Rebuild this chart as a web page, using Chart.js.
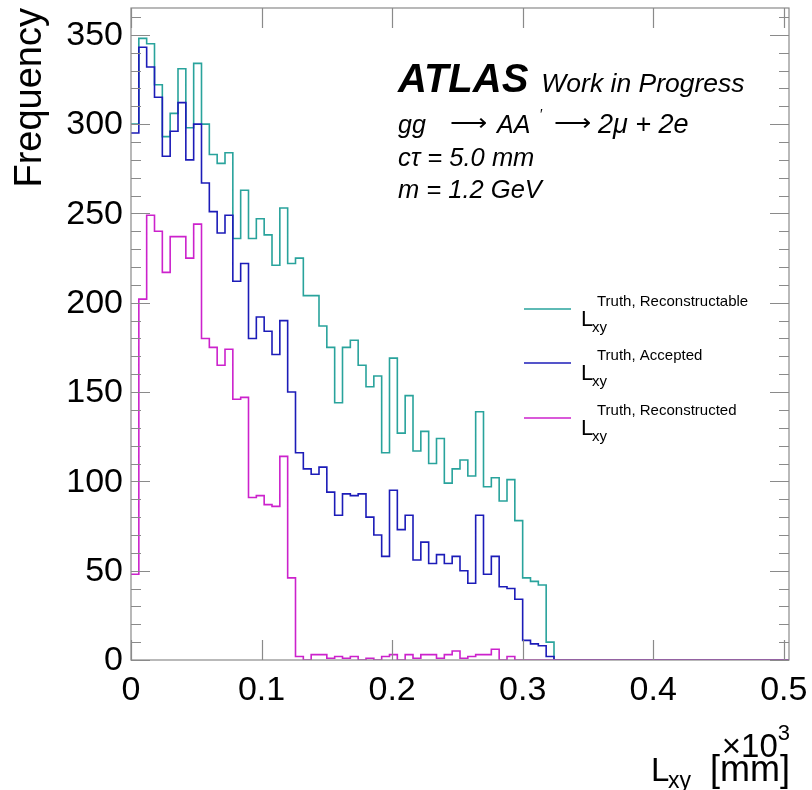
<!DOCTYPE html>
<html>
<head>
<meta charset="utf-8">
<script src="https://cdn.jsdelivr.net/npm/chart.js@4.4.0/dist/chart.umd.min.js"></script>
<style>
  html, body { margin: 0; padding: 0; background: #fff; }
</style>
</head>
<body>
<canvas id="lxyChart" width="812" height="790"></canvas>
<script>
// 6 mm bins from 0 to 504 mm, counts listed up to the last filled bin
const binWidth = 6;
const nBins = 84;

const reconstructable = [
  300, 348, 345, 322, 293, 306, 331, 298, 334, 300,
  283, 278, 284, 236, 263, 236, 247, 238, 221, 253,
  222, 225, 204, 204, 187, 175, 144, 175, 179, 165,
  153, 159, 116, 169, 127, 148, 117, 128, 110, 124,
  99, 107, 112, 103, 139, 97, 102, 89, 101, 78,
  46, 44, 42, 10
];
const accepted = [
  295, 343, 332, 315, 282, 296, 312, 280, 300, 267,
  251, 239, 249, 212, 222, 180, 192, 184, 171, 190,
  150, 116, 107, 104, 108, 94, 81, 93, 92, 93,
  80, 70, 58, 95, 73, 81, 56, 66, 54, 59,
  54, 58, 50, 43, 81, 48, 58, 41, 40, 34,
  11, 9, 8, 2
];
const reconstructed = [
  48, 202, 249, 240, 217, 237, 237, 225, 244, 180,
  175, 165, 174, 146, 147, 91, 92, 87, 86, 114,
  46, 2, 0, 3, 3, 1, 2, 1, 2, 0,
  1, 0, 2, 3, 0, 3, 1, 3, 3, 1,
  3, 5, 1, 2, 3, 3, 6, 0, 2, 0,
  0, 0, 0, 0
];

const seriesNames = ["Truth, Reconstructable", "Truth, Accepted", "Truth, Reconstructed"];
const xTicks = [0, 100, 200, 300, 400, 500];
const yTicks = [0, 50, 100, 150, 200, 250, 300, 350];

const FONT = '"Liberation Sans", Arial, Helvetica, sans-serif';
const COLORS = ["#29a39c", "#1c1cb8", "#cc22cc"];

// histogram outline: one point per lower bin edge, plus the closing edge
function toSteps(counts) {
  const pts = [];
  for (let i = 0; i < nBins; i++) {
    pts.push({ x: i * binWidth, y: counts[i] || 0 });
  }
  pts.push({ x: nBins * binWidth, y: counts[nBins - 1] || 0 });
  return pts;
}

function text(ctx, str, x, y, size, style, align, baseline) {
  ctx.font = (style || "") + " " + size + "px " + FONT;
  ctx.textAlign = align || "left";
  ctx.textBaseline = baseline || "alphabetic";
  ctx.fillText(str, x, y);
  return ctx.measureText(str).width;
}

// ROOT-like frame, inward ticks on all four sides, labels and legend
const rootFrame = {
  id: "rootFrame",
  afterDraw(chart) {
    const ctx = chart.ctx;
    const a = chart.chartArea;
    const xs = chart.scales.x, ys = chart.scales.y;
    ctx.save();
    ctx.strokeStyle = "#8a8a8a";
    ctx.lineWidth = 1.2;
    ctx.strokeRect(a.left, a.top, a.right - a.left, a.bottom - a.top);

    ctx.beginPath();
    for (let v = 0; v <= ys.max; v += 10) {
      const y = Math.round(ys.getPixelForValue(v)) + 0.5;
      const len = v % 50 === 0 ? 19 : 10;
      ctx.moveTo(a.left, y); ctx.lineTo(a.left + len, y);
      ctx.moveTo(a.right, y); ctx.lineTo(a.right - len, y);
    }
    xTicks.forEach(v => {
      const x = Math.round(xs.getPixelForValue(v)) + 0.5;
      ctx.moveTo(x, a.bottom); ctx.lineTo(x, a.bottom - 20);
      ctx.moveTo(x, a.top); ctx.lineTo(x, a.top + 20);
    });
    ctx.stroke();

    ctx.fillStyle = "#000";
    // tick labels
    yTicks.forEach(v => {
      text(ctx, String(v), a.left - 8, ys.getPixelForValue(v) + 1, 34, "", "right", "middle");
    });
    xTicks.forEach(v => {
      text(ctx, String(v / 1000), xs.getPixelForValue(v), a.bottom + 40, 34, "", "center");
    });

    // y title
    ctx.save();
    ctx.translate(41, 8);
    ctx.rotate(-Math.PI / 2);
    text(ctx, "Frequency", 0, 0, 38, "", "right");
    ctx.restore();

    // x title with exponent
    const w3 = text(ctx, "3", 790, 740, 22, "", "right");
    text(ctx, "\u00d710", 790 - w3, 757, 33, "", "right");
    text(ctx, "[mm]", 790, 781, 36, "", "right");
    text(ctx, "L", 651, 781, 33, "");
    text(ctx, "xy", 668, 788, 23, "");

    // labels
    const wA = text(ctx, "ATLAS", 398, 92, 40, "italic bold");
    text(ctx, "Work in Progress", 398 + wA + 13, 92, 26.5, "italic");
    text(ctx, "gg", 398, 133, 25, "italic");
    text(ctx, "\u27f6", 468, 131, 26, "", "center");
    text(ctx, "AA", 497, 133, 25, "italic");
    text(ctx, "\u2032", 540, 119, 14, "");
    text(ctx, "\u27f6", 572, 131, 26, "", "center");
    text(ctx, "2\u03bc + 2e", 598, 133, 27, "italic");
    text(ctx, "c\u03c4 = 5.0 mm", 398, 166, 25.5, "italic");
    text(ctx, "m = 1.2 GeV", 398, 198, 25.5, "italic");

    // legend
    const rows = [309, 363, 418];
    chart.data.datasets.forEach((ds, i) => {
      const y = rows[i];
      ctx.strokeStyle = ds.borderColor;
      ctx.lineWidth = 1.6;
      ctx.beginPath();
      ctx.moveTo(524, y); ctx.lineTo(571, y);
      ctx.stroke();
      ctx.fillStyle = "#000";
      text(ctx, "L", 581, y + 17, 22, "");
      text(ctx, "xy", 592, y + 23, 15, "");
      text(ctx, seriesNames[i], 597, y - 3, 15, "");
    });
    ctx.restore();
  }
};

new Chart(document.getElementById("lxyChart"), {
  type: "line",
  data: {
    datasets: [
      { label: seriesNames[0], data: toSteps(reconstructable), borderColor: COLORS[0], order: 3 },
      { label: seriesNames[1], data: toSteps(accepted), borderColor: COLORS[1], order: 2 },
      { label: seriesNames[2], data: toSteps(reconstructed), borderColor: COLORS[2], order: 1 }
    ].map(ds => Object.assign(ds, {
      stepped: true, pointRadius: 0, borderWidth: 1.6, fill: false, tension: 0
    }))
  },
  options: {
    responsive: false,
    animation: false,
    parsing: false,
    layout: { padding: { top: 8, right: 23, left: 0, bottom: 0 } },
    plugins: { legend: { display: false }, tooltip: { enabled: false } },
    scales: {
      x: {
        type: "linear",
        min: 0,
        max: nBins * binWidth,
        grid: { display: false, drawTicks: false },
        border: { display: false },
        ticks: { display: false },
        afterFit: s => { s.height = 130; }
      },
      y: {
        min: 0,
        max: 365,
        grid: { display: false, drawTicks: false },
        border: { display: false },
        ticks: { display: false },
        afterFit: s => { s.width = 131; }
      }
    }
  },
  plugins: [rootFrame]
});
</script>
</body>
</html>
